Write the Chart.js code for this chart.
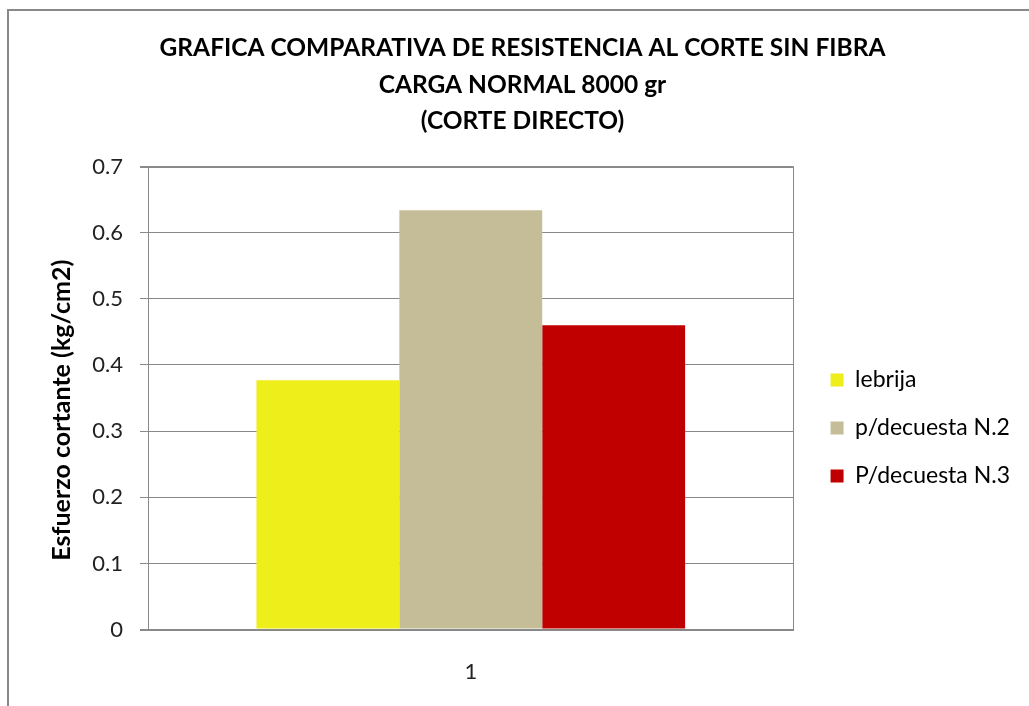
<!DOCTYPE html>
<html>
<head>
<meta charset="utf-8">
<script src="https://cdn.jsdelivr.net/npm/chart.js@4.4.1/dist/chart.umd.min.js"></script>
<style>
html,body{margin:0;padding:0;background:#fff;overflow:hidden;width:1029px;height:706px;}
#box{position:absolute;left:7px;top:9px;width:1060px;height:760px;border:2px solid #898989;border-right:none;border-bottom:none;}
#wrap{position:absolute;left:0;top:0;width:1040px;height:730px;}
</style>
</head>
<body>
<div id="box"><div id="wrap"><canvas id="c"></canvas></div></div>
<script>
const categories = ["1"];
const seriesNames = ["lebrija", "p/decuesta N.2", "P/decuesta N.3"];
const lebrija = [0.377];
const decuesta2 = [0.634];
const decuesta3 = [0.460];
const seriesColors = ["#EEEE1A", "#C4BD97", "#C00000"];
const titleLines = ["GRAFICA COMPARATIVA DE RESISTENCIA AL CORTE SIN FIBRA", "CARGA NORMAL 8000 gr", "(CORTE DIRECTO)"];
const yTitle = "Esfuerzo cortante (kg/cm2)    ";

const FONT = "Lato, 'Open Sans', sans-serif";
const seriesValues = [lebrija, decuesta2, decuesta3];

const legendShift = {
  id: 'legendShift',
  afterLayout(chart) {
    const l = chart.legend;
    const dx = 12;
    const dy = 56;
    l.left += dx; l.right += dx;
    l.top += dy; l.bottom += dy;
  }
};

new Chart(document.getElementById('c'), {
  type: 'bar',
  data: {
    labels: categories,
    datasets: seriesNames.map((n, i) => ({
      label: n,
      data: seriesValues[i],
      backgroundColor: seriesColors[i],
      borderWidth: 0,
      barPercentage: 1,
      categoryPercentage: 0.664
    }))
  },
  plugins: [legendShift],
  options: {
    responsive: true,
    maintainAspectRatio: false,
    animation: false,
    devicePixelRatio: 1,
    layout: { padding: { left: 28, right: 41, top: 19, bottom: 27 } },
    plugins: {
      tooltip: { enabled: false },
      title: {
        display: true,
        text: titleLines,
        color: '#000',
        font: { family: FONT, size: 24.5, weight: 'bold', lineHeight: 1.49 },
        padding: { top: 0, bottom: 27 }
      },
      legend: {
        position: 'right',
        align: 'center',
        labels: {
          boxWidth: 13,
          boxHeight: 13,
          padding: 25,
          color: '#000',
          font: { family: FONT, size: 23 }
        }
      }
    },
    scales: {
      x: {
        offset: true,
        grid: { display: true, offset: true, drawTicks: false, color: '#898989', lineWidth: 1 },
        border: { display: true, color: '#898989', width: 2 },
        ticks: { color: '#222', padding: 29, font: { family: FONT, size: 22 } }
      },
      y: {
        min: 0,
        max: 0.7,
        afterFit: (s) => { s.width = 111; },
        ticks: { stepSize: 0.1, color: '#222', padding: 17, font: { family: FONT, size: 22 } },
        grid: {
          color: '#898989',
          tickLength: 8,
          lineWidth: (ctx) => (ctx.index === 0 || ctx.index === 7) ? 2 : 1
        },
        border: { display: true, color: '#898989', width: 1 },
        title: {
          display: true,
          text: yTitle,
          color: '#000',
          font: { family: FONT, size: 25, weight: 'bold' },
          padding: { top: 10, bottom: 0 }
        }
      }
    }
  }
});
</script>
</body>
</html>
